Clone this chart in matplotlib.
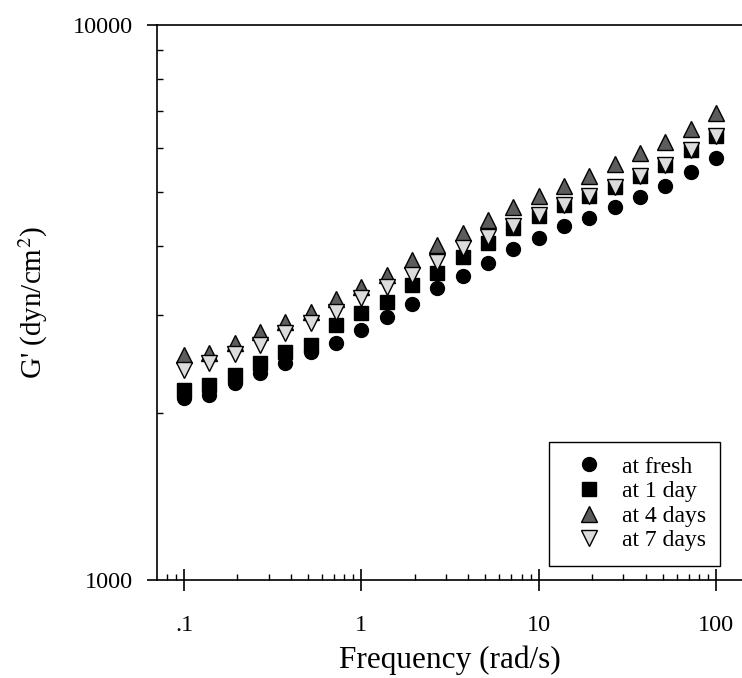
"""
Storage modulus G' of the samples vs. angular frequency, log-log,
fresh vs. aged (1, 4 and 7 days).
"""

import matplotlib
matplotlib.use("Agg")
import matplotlib.pyplot as plt
from matplotlib.ticker import FixedLocator, FixedFormatter, NullFormatter

plt.rcParams["font.family"] = ["Liberation Serif", "DejaVu Serif"]
plt.rcParams["mathtext.fontset"] = "stix"

# Frequency sweep, 7 points per decade from 0.1 to 100 rad/s
FREQ = [0.1, 0.139, 0.193, 0.268, 0.373, 0.518, 0.72, 1.0, 1.39, 1.93, 2.68,
        3.73, 5.18, 7.2, 10.0, 13.9, 19.3, 26.8, 37.3, 51.8, 72.0, 100.0]

# G' (dyn/cm2)
G_FRESH = [2128, 2154, 2265, 2360, 2460, 2575, 2673, 2822, 2978, 3143, 3359,
           3530, 3726, 3948, 4132, 4343, 4491, 4700, 4900, 5128, 5434, 5760]
G_1DAY = [2199, 2246, 2341, 2460, 2575, 2651, 2881, 3028, 3169, 3401, 3575,
          3820, 4048, 4307, 4528, 4740, 4920, 5107, 5345, 5594, 5954, 6310]
G_4DAYS = [2543, 2564, 2673, 2798, 2917, 3040, 3208, 3373, 3545, 3773, 4014,
           4219, 4453, 4700, 4920, 5128, 5345, 5617, 5880, 6155, 6495, 6940]
G_7DAYS = [2389, 2460, 2554, 2651, 2786, 2905, 3040, 3222, 3373, 3545, 3741,
           3965, 4150, 4343, 4545, 4740, 4920, 5107, 5345, 5594, 5954, 6310]

LABELS = ["at fresh", "at 1 day", "at 4 days", "at 7 days"]
X_TICKS = [0.1, 1, 10, 100]
X_TICK_LABELS = [".1", "1", "10", "100"]
Y_TICKS = [1000, 10000]
Y_TICK_LABELS = ["1000", "10000"]

# one marker style per series, same order as LABELS
STYLES = [
    dict(marker="o", ms=10, mfc="black", mec="black"),
    dict(marker="s", ms=9.5, mfc="black", mec="black"),
    dict(marker="^", ms=11, mfc="#5c5c5c", mec="black", mew=1.0),
    dict(marker="v", ms=11, mfc="#dcdcdc", mec="black", mew=1.0),
]


def main() -> None:
    fig = plt.figure(figsize=(7.42, 6.78), dpi=100)
    ax = fig.add_axes([157 / 742, 1 - 580 / 678, 1 - 157 / 742, (580 - 25) / 678])

    for values, label, style in zip([G_FRESH, G_1DAY, G_4DAYS, G_7DAYS], LABELS, STYLES):
        ax.plot(FREQ, values, linestyle="none", label=label, **style)

    ax.set_xscale("log")
    ax.set_yscale("log")
    ax.set_xlim(0.0704, 140)
    ax.set_ylim(1000, 10000)

    ax.xaxis.set_major_locator(FixedLocator(X_TICKS))
    ax.xaxis.set_major_formatter(FixedFormatter(X_TICK_LABELS))
    ax.xaxis.set_minor_formatter(NullFormatter())
    ax.yaxis.set_major_locator(FixedLocator(Y_TICKS))
    ax.yaxis.set_major_formatter(FixedFormatter(Y_TICK_LABELS))
    ax.yaxis.set_minor_formatter(NullFormatter())

    ax.tick_params(axis="x", which="major", direction="inout", length=16,
                   width=1.2, labelsize=17.5, pad=17, top=False)
    ax.tick_params(axis="x", which="minor", direction="in", length=4.5,
                   width=1.0, top=False)
    ax.tick_params(axis="y", which="major", direction="out", length=7,
                   width=1.2, labelsize=17.5, pad=10, right=False)
    ax.tick_params(axis="y", which="minor", direction="in", length=4.5,
                   width=1.0, right=False)

    for side in ["left", "bottom", "top"]:
        ax.spines[side].set_linewidth(1.2)
    ax.spines["right"].set_visible(False)

    ax.set_xlabel("Frequency (rad/s)", fontsize=22.5, labelpad=7)
    ax.set_ylabel("G' (dyn/cm$^2$)", fontsize=21, labelpad=17)

    leg = ax.legend(loc="upper left", bbox_to_anchor=(549 / 742, 1 - 442 / 678),
                    bbox_transform=fig.transFigure, fontsize=17, frameon=True,
                    fancybox=False, edgecolor="black", framealpha=1,
                    handlelength=2.2, handletextpad=0.3, labelspacing=0.13,
                    borderpad=0.6, borderaxespad=0)
    leg.get_frame().set_linewidth(1.0)

    fig.savefig("out.png", dpi=100)


if __name__ == "__main__":
    main()
